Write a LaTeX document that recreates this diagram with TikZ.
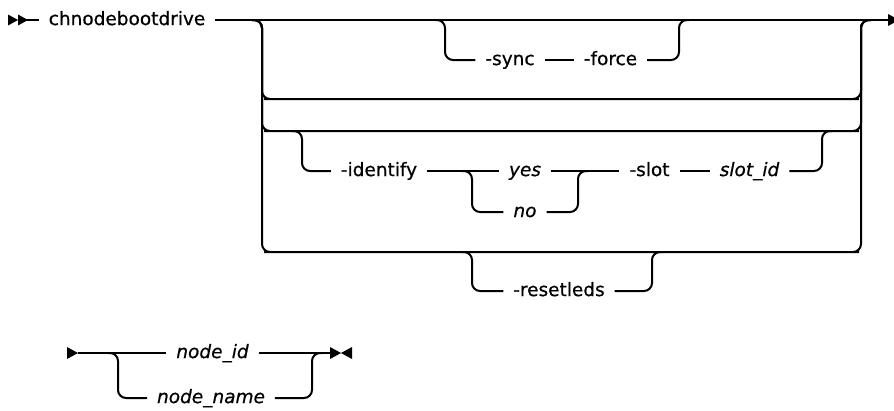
\documentclass[tikz,border=0pt]{standalone}
\usepackage{fontspec}
\setmainfont{DejaVu Sans}[FakeBold=0.6]
\begin{document}
\fontsize{18.5}{22}\selectfont
\begin{tikzpicture}[x=1pt,y=-1pt,
  line width=2pt,
  rail/.style={rounded corners=8pt},
  lbl/.style={inner xsep=9pt, inner ysep=2pt, anchor=mid},
  var/.style={lbl, font=\itshape},
  tipfill/.style={fill=black, draw=none}]
\useasboundingbox (0,0) rectangle (894,410);

% text nodes
\node[lbl] (cmd)    at (127,20)    {chnodebootdrive};
\node[lbl] (sync)   at (510,60)    {-sync};
\node[lbl] (force)  at (610.5,60)  {-force};
\node[lbl] (ident)  at (379,171)   {-identify};
\node[var] (yes)    at (525,171)   {yes};
\node[var] (no)     at (525,212)   {no};
\node[lbl] (slot)   at (649.5,171) {-slot};
\node[var] (slotid) at (749.5,171) {slot\_id};
\node[lbl] (reset)  at (559,291)   {-resetleds};
\node[var] (nid)    at (212.5,353) {node\_id};
\node[var] (nname)  at (211,398)   {node\_name};

% junction coordinates
\coordinate (start) at (18,20);
\coordinate (mend)  at (888,20);
\coordinate (bstart) at (78,353);
\coordinate (bend)  at (330,353);

% start double arrow
\fill[tipfill] (8,14.5) -- (18,20) -- (8,25.5) -- cycle;
\fill[tipfill] (18,14.5) -- (28,20) -- (18,25.5) -- cycle;
\draw (start) -- (cmd.mid west);
\draw (cmd.mid east) -- (mend);
\fill[tipfill] (mend) ++(0,-6) -- ++(11,6) -- ++(-11,6) -- cycle;

% big group rows
\draw[rail] (252,20) -- (262,20) -- (262,99)  -- (272,99)  -- (851,99)  -- (861,99)  -- (861,20) -- (871,20);
\draw[rail] (252,20) -- (262,20) -- (262,131) -- (272,131) -- (851,131) -- (861,131) -- (861,20) -- (871,20);
\draw[rail] (252,20) -- (262,20) -- (262,252) -- (272,252) -- (851,252) -- (861,252) -- (861,20) -- (871,20);

% sync / force
\draw[rail] (435,20) -- (445,20) -- (445,60) -- (sync.mid west);
\draw (sync.mid east) -- (force.mid west);
\draw[rail] (force.mid east) -- (679,60) -- (679,20) -- (689,20);

% identify
\draw[rail] (292,131) -- (302,131) -- (302,171) -- (ident.mid west);
\draw (ident.mid east) -- (yes.mid west);
\draw[rail] (462,171) -- (472,171) -- (472,212) -- (no.mid west);
\draw[rail] (no.mid east) -- (578,212) -- (578,171) -- (588,171);
\draw (yes.mid east) -- (slot.mid west);
\draw (slot.mid east) -- (slotid.mid west);
\draw[rail] (slotid.mid east) -- (822,171) -- (822,131) -- (832,131);

% resetleds
\draw[rail] (462,252) -- (472,252) -- (472,291) -- (reset.mid west);
\draw[rail] (reset.mid east) -- (652,291) -- (652,252) -- (662,252);

% bottom line
\fill[tipfill] (67,347) -- (bstart) -- (67,359) -- cycle;
\draw (bstart) -- (nid.mid west);
\draw[rail] (108,353) -- (118,353) -- (118,398) -- (nname.mid west);
\draw[rail] (nname.mid east) -- (312,398) -- (312,353) -- (322,353);
\draw (nid.mid east) -- (bend);
\fill[tipfill] (330,347) -- (341,353) -- (330,359) -- cycle;
\fill[tipfill] (352,347) -- (341,353) -- (352,359) -- cycle;
\end{tikzpicture}
\end{document}
